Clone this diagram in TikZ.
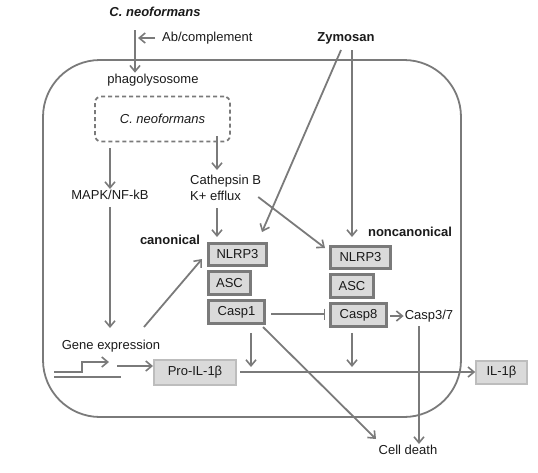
\documentclass[tikz,border=0pt]{standalone}
\usepackage{fontspec}
\setmainfont{Liberation Sans}
\usetikzlibrary{arrows.meta}
\definecolor{ln}{HTML}{7A7A7A}
\definecolor{bxfill}{HTML}{DADADA}
\definecolor{bxlight}{HTML}{BDBDBD}
\definecolor{tx}{HTML}{1A1A1A}
\begin{document}
\begin{tikzpicture}[x=1pt,y=-1pt,
  every node/.style={font=\fontsize{13}{15}\selectfont, text=tx, inner sep=1pt},
  conn/.style={draw=ln, line width=1.8pt, -{Straight Barb[length=6pt,width=10pt,line width=1.6pt]}},
  inhib/.style={draw=ln, line width=1.8pt, -{Bar[width=11pt,line width=1.6pt]}},
  pbox/.style={draw=ln, fill=bxfill, line width=2.6pt, inner sep=0pt},
  lbox/.style={draw=bxlight, fill=bxfill, line width=2pt, inner sep=0pt},
  bold/.style={font=\fontsize{13}{15}\selectfont\bfseries}]
\useasboundingbox (0,0) rectangle (538,472);
% cell
\draw[ln, line width=1.8pt, rounded corners=57pt] (43,60) rectangle (461,417);
% top
\node[font=\fontsize{13}{15}\selectfont\bfseries\itshape] (cneo) at (155,12) {C. neoformans};
\coordinate (topin) at (135,30);
\node (phago) at (153,80) {phagolysosome};
\node[anchor=west] (ab) at (161,38) {Ab/complement};
\draw[conn] (topin) -- (phago.north -| topin);
\draw[conn] (ab.west) ++(-6,0) -- ++(-17,0);
% dashed box
\node[draw=ln, dashed, dash pattern=on 4pt off 3pt, line width=1.8pt, rounded corners=6pt,
      minimum width=135, minimum height=45] (dbox) at (162.5,119) {\itshape C. neoformans};
\node (mapk) at (110,195) {MAPK/NF-kB};
\node[anchor=west, align=left, font=\fontsize{13}{16}\selectfont] (cath) at (189,188) {Cathepsin B\\K+ efflux};
\draw[conn] (dbox.south -| mapk) ++(0,6) -- (mapk.north);
\draw[conn] ([yshift=6pt]dbox.south -| 217,0) -- (217,170);
% Zymosan
\node[bold] (zym) at (346,38) {Zymosan};
% canonical boxes
\node[bold] (can) at (170,240) {canonical};
\node[pbox, minimum width=58, minimum height=22] (cN) at (237.5,254.5) {NLRP3};
\node[pbox, minimum width=42, minimum height=23] (cA) at (229.5,283) {ASC};
\node[pbox, minimum width=56, minimum height=23] (cC) at (236.5,312) {Casp1};
% noncanonical boxes
\node[bold] (noncan) at (410,232) {noncanonical};
\node[pbox, minimum width=60, minimum height=22] (nN) at (360.5,257.5) {NLRP3};
\node[pbox, minimum width=43, minimum height=23] (nA) at (352,286) {ASC};
\node[pbox, minimum width=56, minimum height=23] (nC) at (358.5,315) {Casp8};
\node (c37) at (429,316) {Casp3/7};
\node (death) at (408,450) {Cell death};
% IL boxes
\node[lbox, minimum width=82, minimum height=25] (pro) at (195,372.5) {Pro-IL-1β};
\node[lbox, minimum width=51, minimum height=23, line width=1.5pt] (il) at (501.5,372.5) {IL-1β};
\node (gene) at (111,346) {Gene expression};
% connectors
\draw[conn] (217,208) -- (217,237);
\draw[conn] (cath.east |- 0,197) ++(-4,0) -- (325,248);
\draw[conn] (zym.south) ++(-5,5) -- (262,232);
\draw[conn] (zym.south) ++(6,5) -- (352,237);
\draw[conn] (mapk.south) ++(0,6) -- (110,328);
\draw[conn] (144,327) -- (202,259);
\draw[inhib] (271,314) -- ([xshift=-4pt]nC.west |- 0,314);
\draw[conn] (nC.east |- 0,316) ++(2,0) -- (c37.west);
\draw[conn] (419,326) -- (death.north -| 419,0);
\draw[conn] (263,327) -- (376,439);
\draw[conn] (cC.south -| 251,0) ++(0,8) -- (251,367);
\draw[conn] (nC.south -| 352,0) ++(0,5) -- (352,367);
\draw[conn] (pro.east |- 0,372) ++(3,0) -- (il.west |- 0,372);
% gene symbol
\coordinate (g0) at (54,372);
\draw[ln, line width=2.2pt] (54,377) -- (121,377);
\draw[ln, line width=2.2pt, -{Straight Barb[length=6pt,width=10pt,line width=1.6pt]}] (g0) -- (82,372) -- (82,362) -- (109,362);
\draw[conn] (117,366) -- (pro.west |- 0,366);
\end{tikzpicture}
\end{document}
